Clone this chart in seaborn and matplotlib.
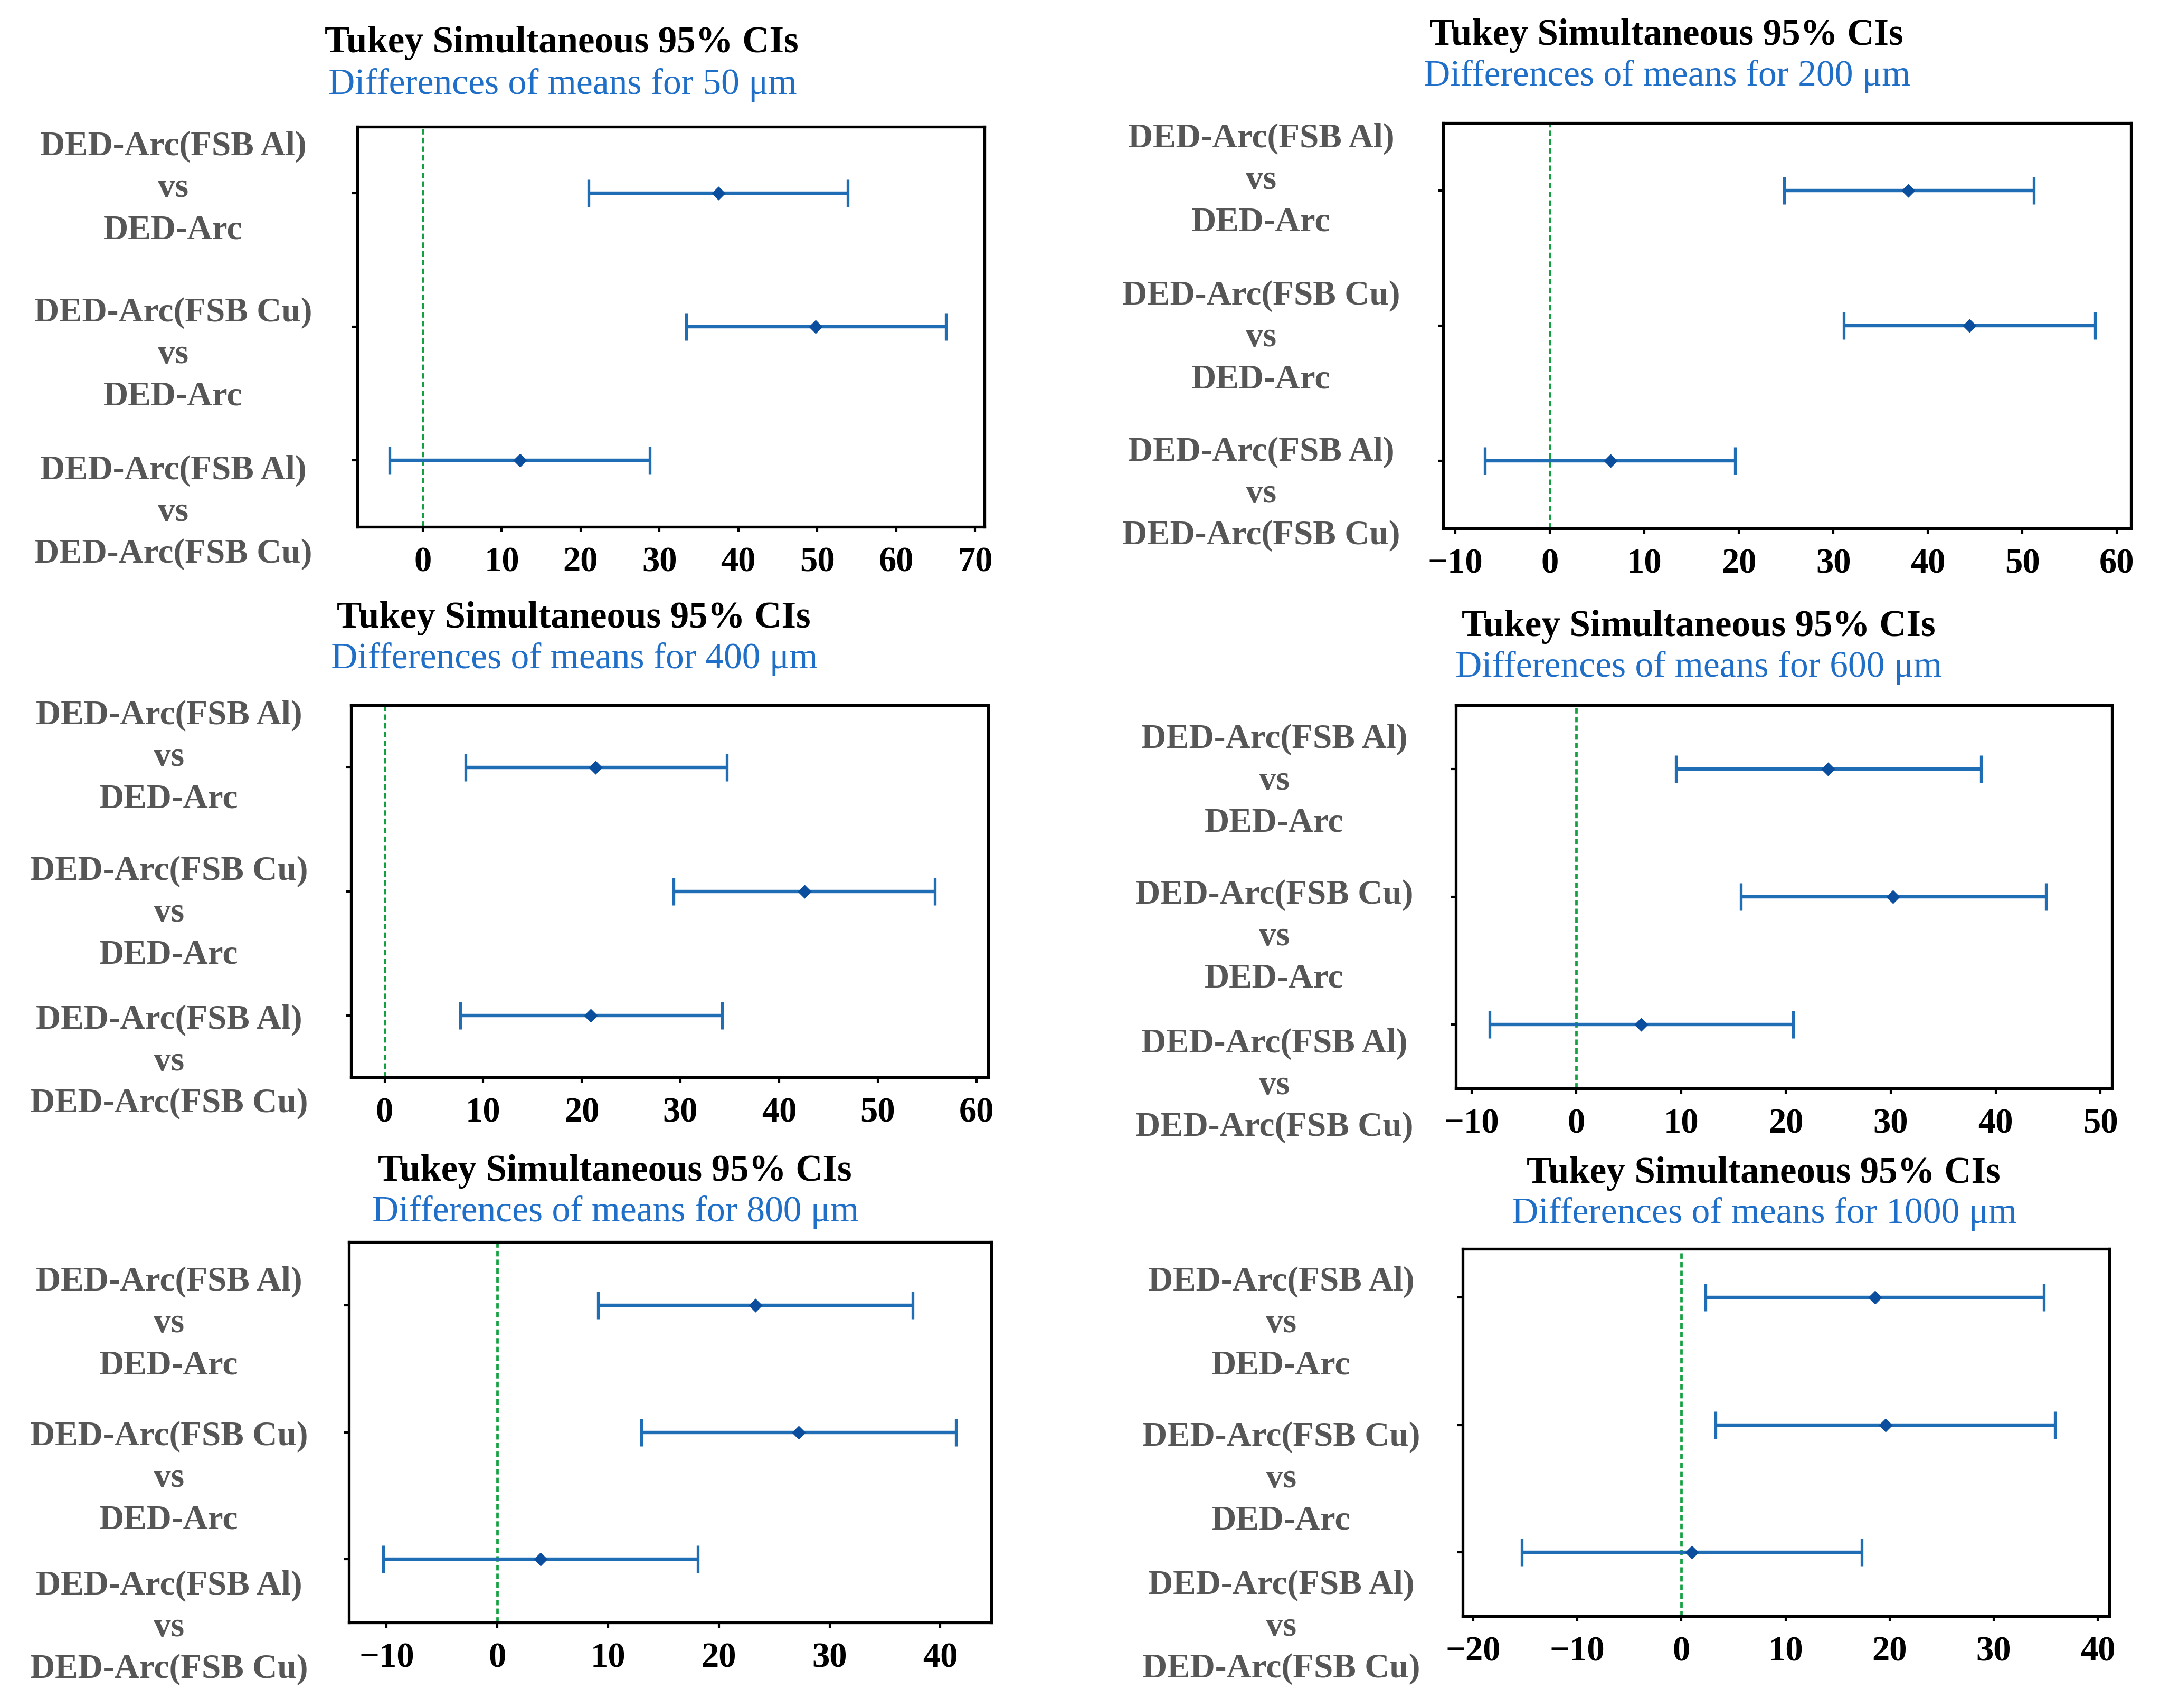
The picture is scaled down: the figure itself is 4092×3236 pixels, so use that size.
import numpy as np
import pandas as pd
import matplotlib
matplotlib.use("Agg")
import matplotlib.pyplot as plt
import seaborn as sns
from matplotlib.ticker import MultipleLocator

# ---------------- data ----------------
comparisons = [
    "DED-Arc(FSB Al)\nvs\nDED-Arc",
    "DED-Arc(FSB Cu)\nvs\nDED-Arc",
    "DED-Arc(FSB Al)\nvs\nDED-Arc(FSB Cu)",
]
sizes = ["50", "200", "400", "600", "800", "1000"]

means_50 = [37.5, 49.8, 12.3]
lower_50 = [21.0, 33.4, -4.2]
upper_50 = [53.9, 66.3, 28.8]

means_200 = [37.9, 44.4, 6.4]
lower_200 = [24.8, 31.1, -6.9]
upper_200 = [51.2, 57.7, 19.6]

means_400 = [21.4, 42.6, 20.9]
lower_400 = [8.2, 29.3, 7.7]
upper_400 = [34.7, 55.8, 34.2]

means_600 = [24.0, 30.2, 6.2]
lower_600 = [9.5, 15.7, -8.3]
upper_600 = [38.6, 44.8, 20.7]

means_800 = [23.3, 27.2, 3.9]
lower_800 = [9.1, 13.0, -10.3]
upper_800 = [37.5, 41.4, 18.1]

means_1000 = [18.6, 19.6, 1.0]
lower_1000 = [2.3, 3.3, -15.3]
upper_1000 = [34.8, 35.9, 17.3]

means = [means_50, means_200, means_400, means_600, means_800, means_1000]
lowers = [lower_50, lower_200, lower_400, lower_600, lower_800, lower_1000]
uppers = [upper_50, upper_200, upper_400, upper_600, upper_800, upper_1000]

title_text = "Tukey Simultaneous 95% CIs"
subtitle_fmt = "Differences of means for {} μm"

# ---------------- layout ----------------
W, H = 4092, 3236
xlims = [(-8.3, 71.2), (-11.3, 61.5), (-3.4, 61.2),
         (-11.5, 51.1), (-13.4, 44.6), (-21.0, 41.1)]
ylims = [(2.5, -0.5)] * 5 + [(2.5, -0.38)]
# axes boxes in pixels: left, top, right, bottom
boxes = [(677, 240, 1865, 998), (2734, 233, 4037, 1001),
         (665, 1336, 1872, 2041), (2758, 1336, 4001, 2062),
         (661, 2353, 1878, 3074), (2771, 2366, 3996, 3062)]
titles_pos = [((1064, 81), (1066, 161)), ((3157, 67), (3158, 145)),
              ((1087, 1171), (1088, 1249)), ((3218, 1187), (3218, 1265)),
              ((1165, 2220), (1166, 2297)), ((3341, 2223), (3343, 2300))]
labels_pos = [(328, [357, 672, 971]), (2389, [342, 640, 936]),
              (320, [1435, 1730, 2012]), (2414, [1480, 1775, 2057]),
              (320, [2508, 2801, 3084]), (2427, [2508, 2802, 3083])]

blue = "#1F6DB5"
dark_blue = "#0B4E9E"
sub_blue = "#1F6FC8"
green = "#14A040"
gray = "#565656"

sns.set_theme(style="ticks")
plt.rcParams["font.family"] = ["Liberation Serif", "DejaVu Serif"]
plt.rcParams["font.weight"] = "bold"
plt.rcParams["axes.unicode_minus"] = True

fig = plt.figure(figsize=(W / 100, H / 100), dpi=100)


def fx(x):
    return x / W


def fy(y):
    return 1 - y / H


for i, size in enumerate(sizes):
    df = pd.DataFrame({
        "comparison": comparisons,
        "pos": [0, 1, 2],
        "mean": means[i],
        "lower": lowers[i],
        "upper": uppers[i],
    })
    l, t, r, b = boxes[i]
    ax = fig.add_axes([fx(l), fy(b), (r - l) / W, (b - t) / H])
    ax.axvline(0, color=green, lw=3.4, ls=(0, (2.2, 1.3)), zorder=1)
    ax.errorbar(df["mean"], df["pos"],
                xerr=[df["mean"] - df["lower"], df["upper"] - df["mean"]],
                fmt="none", ecolor=blue, elinewidth=4.6, capsize=19,
                capthick=3.8, zorder=2)
    sns.scatterplot(data=df, x="mean", y="pos", ax=ax, color=dark_blue,
                    marker="D", s=180, linewidth=0, zorder=3, legend=False)
    ax.set_xlim(*xlims[i])
    ax.set_ylim(*ylims[i])
    ax.set_yticks([0, 1, 2])
    ax.set_yticklabels([])
    ax.xaxis.set_major_locator(MultipleLocator(10))
    ax.set_xlabel("")
    ax.set_ylabel("")
    for sp in ax.spines.values():
        sp.set_color("black")
        sp.set_linewidth(3.8)
    ax.tick_params(axis="x", labelsize=48, length=7, width=3, pad=20,
                   colors="black", direction="out")
    ax.tick_params(axis="y", length=7, width=3, colors="black",
                   direction="out")
    for lbl in ax.get_xticklabels():
        lbl.set_fontweight("bold")

    (tx, ty), (sx, sy) = titles_pos[i]
    fig.text(fx(tx), fy(ty), title_text, ha="center", va="center",
             fontsize=51, fontweight="bold", color="black")
    fig.text(fx(sx), fy(sy), subtitle_fmt.format(size), ha="center",
             va="center", fontsize=50, fontweight="normal", color=sub_blue)

    lx, lys = labels_pos[i]
    for comp, ly in zip(comparisons, lys):
        fig.text(fx(lx), fy(ly), comp, ha="center", va="center",
                 multialignment="center", fontsize=47, fontweight="bold",
                 color=gray, linespacing=1.42)

fig.savefig("out.png", dpi=100, facecolor="white")
